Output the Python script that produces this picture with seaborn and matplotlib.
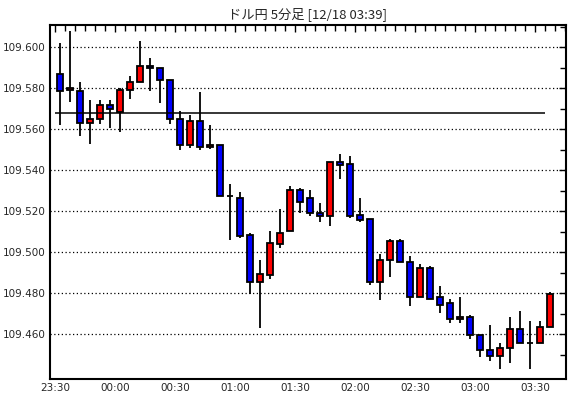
import numpy as np
import pandas as pd
import seaborn as sns
import matplotlib
matplotlib.use("Agg")
import matplotlib.pyplot as plt
import matplotlib.dates as mdates

# 5-minute candles (23:30 -> 03:35)
opens = [109.5868, 109.5790, 109.5788, 109.5629, 109.5649, 109.5717, 109.5686, 109.5790, 109.5829, 109.5909,
         109.5898, 109.5839, 109.5649, 109.5522, 109.5639, 109.5512, 109.5522, 109.5273, 109.5263, 109.5083,
         109.4854, 109.4891, 109.5042, 109.5102, 109.5302, 109.5263, 109.5190, 109.5179, 109.5439, 109.5429,
         109.5180, 109.5161, 109.4854, 109.4961, 109.5054, 109.4951, 109.4780, 109.4922, 109.4780, 109.4751,
         109.4673, 109.4683, 109.4595, 109.4522, 109.4493, 109.4532, 109.4624, 109.4557, 109.4556, 109.4634]
closes = [109.5788, 109.5801, 109.5629, 109.5649, 109.5717, 109.5698, 109.5790, 109.5829, 109.5907, 109.5898,
          109.5839, 109.5649, 109.5522, 109.5639, 109.5512, 109.5522, 109.5273, 109.5273, 109.5081, 109.4854,
          109.4893, 109.5044, 109.5093, 109.5302, 109.5247, 109.5190, 109.5179, 109.5439, 109.5427, 109.5179,
          109.5159, 109.4854, 109.4961, 109.5054, 109.4951, 109.4780, 109.4922, 109.4771, 109.4741, 109.4673,
          109.4683, 109.4595, 109.4522, 109.4493, 109.4532, 109.4624, 109.4556, 109.4557, 109.4634, 109.4797]
highs = [109.6020, 109.6080, 109.5829, 109.5743, 109.5743, 109.5743, 109.5800, 109.5860, 109.6032, 109.5949,
         109.5898, 109.5839, 109.5689, 109.5670, 109.5780, 109.5621, 109.5522, 109.5333, 109.5294, 109.5093,
         109.4962, 109.5105, 109.5211, 109.5323, 109.5315, 109.5304, 109.5242, 109.5439, 109.5480, 109.5470,
         109.5263, 109.5161, 109.4990, 109.5065, 109.5065, 109.4982, 109.4943, 109.4932, 109.4836, 109.4771,
         109.4780, 109.4693, 109.4595, 109.4645, 109.4559, 109.4684, 109.4714, 109.4665, 109.4665, 109.4805]
lows = [109.5621, 109.5732, 109.5569, 109.5530, 109.5626, 109.5608, 109.5588, 109.5746, 109.5829, 109.5788,
        109.5730, 109.5627, 109.5500, 109.5510, 109.5500, 109.5502, 109.5273, 109.5061, 109.5071, 109.4795,
        109.4632, 109.4871, 109.5022, 109.5102, 109.5190, 109.5179, 109.5149, 109.5130, 109.5359, 109.5169,
        109.5149, 109.4842, 109.4769, 109.4881, 109.4951, 109.4740, 109.4780, 109.4771, 109.4702, 109.4654,
        109.4654, 109.4576, 109.4491, 109.4471, 109.4432, 109.4461, 109.4556, 109.4432, 109.4556, 109.4634]
ref_level = 109.5678
title = "ドル円 5分足 [12/18 03:39]"

times = pd.date_range("2019-12-17 23:30", periods=len(opens), freq="5min")
df = pd.DataFrame({"time": times, "open": opens, "high": highs, "low": lows, "close": closes})
df["mid"] = mdates.date2num(df["time"] + pd.Timedelta(minutes=2.5))
df["color"] = np.where(df["close"] > df["open"], "#ff0000", "#0000ff")

sns.set_style("white")
plt.rcParams["font.family"] = ["DejaVu Sans"]

fig = plt.figure(figsize=(5.70, 3.98), dpi=100)
ax = fig.add_axes([49.5 / 570, 1 - 378.5 / 398, 516 / 570, 354 / 398])

one_min = 1 / (24 * 60)
# wicks
ax.vlines(df["mid"], df["low"], df["high"], color="black", linewidth=1.3, zorder=2)
# bodies
ax.bar(df["mid"], df["close"] - df["open"], bottom=df["open"], width=3 * one_min,
       color=df["color"], edgecolor="black", linewidth=1.3, zorder=3)

ax.hlines(ref_level, mdates.date2num(times[0]), mdates.date2num(times[-1]),
          color="black", linewidth=1.1, zorder=4)

ax.set_ylim(109.4385, 109.6111)
ax.set_xlim(mdates.date2num(times[0] - pd.Timedelta(minutes=2.75)),
            mdates.date2num(times[0] + pd.Timedelta(minutes=255.25)))

ax.set_yticks(np.arange(109.46, 109.601, 0.02))
ax.set_yticks(np.arange(109.45, 109.611, 0.01), minor=True)
ax.yaxis.set_major_formatter(matplotlib.ticker.FormatStrFormatter("%.3f"))
ax.yaxis.grid(True, which="major", color="black", linestyle=(0, (1, 2)), linewidth=0.9)
ax.set_axisbelow(True)

ax.xaxis.set_major_locator(mdates.MinuteLocator(byminute=[0, 30]))
ax.xaxis.set_minor_locator(mdates.MinuteLocator(byminute=range(0, 60, 5)))
ax.xaxis.set_major_formatter(mdates.DateFormatter("%H:%M"))

ax.tick_params(axis="both", which="both", direction="in", color="black",
               top=True, right=True, labelsize=7.5, pad=3)
ax.tick_params(axis="both", which="major", length=5, width=1)
ax.tick_params(axis="both", which="minor", length=4, width=1)

for sp in ax.spines.values():
    sp.set_color("black")
    sp.set_linewidth(1.5)

ax.set_title(title, fontsize=9.5, family=["Noto Sans CJK JP", "DejaVu Sans"], pad=5)

fig.savefig("out.png", dpi=100, facecolor="white")
